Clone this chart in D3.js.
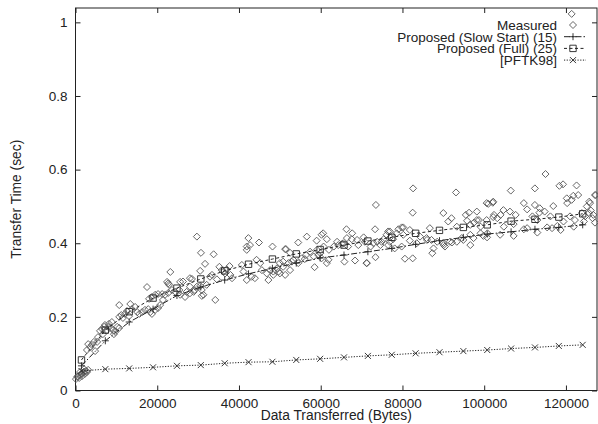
<!DOCTYPE html>
<html>
<head>
<meta charset="utf-8">
<script src="https://d3js.org/d3.v7.min.js"></script>
<style>
  body { margin: 0; background: #fff; }
  svg { display: block; font-family: "Liberation Sans", Arial, Helvetica, sans-serif; }
</style>
</head>
<body>
<svg id="chart" width="598" height="424"></svg>
<script>
// tick values
const xTicks = [0, 20000, 40000, 60000, 80000, 100000, 120000];
const yTicks = [0, 0.2, 0.4, 0.6, 0.8, 1];

// model curves, sampled every 4 segments
const modelBytes = [1460, 7300, 13140, 18980, 24820, 30660, 36500, 42340, 48180, 54020, 59860,
  65700, 71540, 77380, 83220, 89060, 94900, 100740, 106580, 112420, 118260, 124100];
const slowStart = [0.067, 0.135, 0.186, 0.221, 0.258, 0.281, 0.300, 0.317, 0.332, 0.346, 0.360,
  0.368, 0.377, 0.386, 0.397, 0.407, 0.416, 0.425, 0.431, 0.438, 0.443, 0.450];
const full = [0.083, 0.164, 0.214, 0.251, 0.278, 0.303, 0.325, 0.343, 0.357, 0.371, 0.383,
  0.395, 0.406, 0.416, 0.427, 0.435, 0.443, 0.450, 0.460, 0.465, 0.471, 0.480];
const pftk = [0.053, 0.058, 0.060, 0.063, 0.067, 0.069, 0.074, 0.077, 0.078, 0.083, 0.086,
  0.090, 0.094, 0.097, 0.101, 0.104, 0.107, 0.110, 0.114, 0.117, 0.121, 0.124];

// measured transfers [bytes, seconds]
const measured = [
  [100,0.031],[400,0.037],[600,0.039],[900,0.034],[1100,0.042],[1400,0.045],[1600,0.039],[1800,0.048],
  [2100,0.050],[2300,0.045],[2600,0.053],[2800,0.050],[3100,0.056],[1100,0.050],[2100,0.058],
  [2800,0.110],[3100,0.126],[3600,0.118],[4000,0.124],[4500,0.132],[4800,0.107],[5300,0.132],[5500,0.145],
  [6000,0.162],[6500,0.167],[6700,0.153],[7000,0.173],[7200,0.178],[7700,0.164],[8000,0.173],[8200,0.181],
  [8700,0.170],[9200,0.164],[9400,0.153],[9700,0.159],[10200,0.173],[10700,0.170],[8900,0.186],[10700,0.200],
  [11200,0.205],[11600,0.197],[12100,0.208],[12600,0.216],[13100,0.202],[13400,0.235],[13800,0.221],
  [14600,0.227],[15100,0.213],[15600,0.208],[16300,0.213],[17000,0.219],[17800,0.221],[18300,0.213],
  [18700,0.208],[19500,0.219],[10700,0.232],[17500,0.281],[18000,0.249],[18700,0.254],[19500,0.260],
  [20200,0.262],[21200,0.262],[21900,0.260],[22700,0.265],[23200,0.322],[22400,0.295],[22900,0.287],
  [23600,0.273],[24400,0.268],[25400,0.273],[25600,0.295],[20700,0.232],[21400,0.246],[20200,0.224],
  [29700,0.418],[30700,0.374],[33800,0.370],[31700,0.344],[30500,0.325],[28500,0.303],[26300,0.296],
  [27200,0.268],[28900,0.268],[30900,0.273],[32100,0.287],[32900,0.309],[33400,0.314],[34600,0.302],
  [35200,0.336],[35800,0.327],[36200,0.323],[36600,0.318],[37000,0.329],[37700,0.338],[37900,0.314],
  [38300,0.305],[30900,0.257],[31300,0.260],[29700,0.282],[28000,0.282],[34200,0.246],[40700,0.341],
  [41100,0.323],[41900,0.300],[42300,0.414],[41900,0.391],[42700,0.395],[44900,0.402],[44300,0.355],
  [45200,0.346],[45600,0.327],[46800,0.318],[47600,0.327],[48200,0.391],[50000,0.346],[50800,0.350],
  [51500,0.384],[48400,0.323],[49300,0.332],[50000,0.318],[47200,0.300],[43900,0.305],[43100,0.309],
  [25600,0.260],[26800,0.254],[28000,0.264],[29200,0.273],[30500,0.284],[28000,0.305],[22700,0.291],
  [41900,0.382],
  [51300,0.384],[54500,0.402],[56600,0.418],[60200,0.423],[61500,0.411],[66300,0.438],[73500,0.504],
  [82600,0.549],[82500,0.483],[73300,0.438],[76500,0.432],[79000,0.438],[79800,0.443],[80600,0.358],
  [82500,0.359],[87300,0.373],[87600,0.386],[90000,0.482],[91200,0.459],[92000,0.468],[93100,0.538],
  [95500,0.477],[96300,0.483],[98200,0.486],[101000,0.507],[102100,0.510],[106500,0.543],[112400,0.549],
  [115000,0.588],[118400,0.556],[119300,0.560],[122600,0.557],[123000,0.531],[121400,0.518],[120300,0.509],
  [109700,0.509],[110500,0.492],[112400,0.504],[113500,0.483],[114800,0.486],[116900,0.501],[125900,0.509],
  [127100,0.531],[104700,0.490],[106300,0.486],[107700,0.477],[104000,0.477],[102400,0.477],[103200,0.468],
  [100600,0.463],[98700,0.463],[97500,0.456],[95800,0.461],[93300,0.445],[99100,0.445],[100800,0.427],
  [104800,0.445],[107200,0.452],[109700,0.438],[113000,0.429],[115400,0.443],[117900,0.447],[124400,0.459],
  [125600,0.482],[126500,0.468],[127100,0.456],
  [96600,0.423],[97400,0.414],[100700,0.416],[103900,0.423],[107200,0.420],[110500,0.441],[94900,0.409],
  [92100,0.402],[90100,0.395],[88500,0.404],[86000,0.409],[84300,0.418],[83500,0.400],[81800,0.407],
  [80200,0.423],[78600,0.427],[77000,0.416],[75400,0.411],[74600,0.395],[73800,0.404],[72200,0.391],
  [70500,0.416],[68900,0.409],[67700,0.427],[66400,0.414],[65200,0.398],[64000,0.404],[63200,0.391],
  [62000,0.382],[60700,0.391],[59900,0.373],[59100,0.382],[58300,0.364],[57400,0.377],[56400,0.368],
  [55300,0.359],[54500,0.346],[53300,0.355],[52100,0.346],[50800,0.336],[49700,0.323],[48400,0.314],
  [71300,0.346],[96600,0.395],[90400,0.391],[99800,0.420],
  [125100,0.500],[126100,0.489],[123900,0.482],[124700,0.473],[126700,0.477],[121000,0.473],[122200,0.463],
  [119400,0.459],[116600,0.441],[118700,0.436],[121900,0.445],[113000,0.463],[111800,0.473],[116200,0.473],
  [102200,0.513],[102200,0.471],[113600,0.495],[120200,0.522],[121800,0.529],[125700,0.513],[127300,0.531],
  [100600,0.509],[80200,0.443],[81800,0.436],[86700,0.441],[98200,0.463],[96600,0.450],[99100,0.427],
  [76900,0.404],[78100,0.386],[79800,0.391],[85900,0.414],[87100,0.409],[90000,0.400],[91600,0.404],
  [93300,0.404],[94500,0.414],
  [60600,0.427],[59000,0.407],[76100,0.423],[76900,0.432],[52500,0.374],[52900,0.350],[52500,0.327],
  [51300,0.314],[56100,0.357],[58500,0.335],[61500,0.346],[65800,0.350],[68400,0.353],[71200,0.346],
  [73400,0.362],[64300,0.395],[65500,0.400],[66700,0.391],[67600,0.411],[69200,0.395],[70800,0.404],
  [72900,0.400],[74900,0.404],[76500,0.395],[77700,0.411],[59400,0.368],[60200,0.359],[61900,0.355],
  [121400,1.023]
];

const legendLabels = ["Measured", "Proposed (Slow Start) (15)", "Proposed (Full) (25)", "[PFTK98]"];

const svg = d3.select("#chart");
const margin = { top: 8, right: 1, bottom: 33.5, left: 75.5 };
const width = +svg.attr("width") - margin.left - margin.right;
const height = +svg.attr("height") - margin.top - margin.bottom;
const ink = "#222";

const g = svg.append("g").attr("transform", `translate(${margin.left}, ${margin.top})`);

const x = d3.scaleLinear().domain([0, 127600]).range([0, width]);
const y = d3.scaleLinear().domain([0, 1.039]).range([height, 0]);

// marker shapes
const shapes = {
  diamond: r => `M0,${-r}L${r},0L0,${r}L${-r},0Z`,
  square: r => `M${-r},${-r}H${r}V${r}H${-r}Z`,
  plus: r => `M${-r},0H${r}M0,${-r}V${r}`,
  cross: r => `M${-r},${-r}L${r},${r}M${-r},${r}L${r},${-r}`
};

function customAxis(s, axis, labels) {
  s.call(axis);
  s.select(".domain").remove();
  s.selectAll(".tick line").attr("stroke", ink);
  s.selectAll(".tick text")
    .attr("fill", ink)
    .style("font-size", "13.5px")
    .style("font-family", "'Liberation Sans', Arial, sans-serif")
    .attr("display", labels ? null : "none");
}

g.append("g").attr("transform", `translate(0, ${height})`)
  .call(customAxis, d3.axisBottom(x).tickValues(xTicks).tickSize(-5).tickPadding(8).tickFormat(d3.format("d")), true);
g.append("g")
  .call(customAxis, d3.axisTop(x).tickValues(xTicks).tickSize(-5), false);
g.append("g")
  .call(customAxis, d3.axisLeft(y).tickValues(yTicks).tickSize(-5).tickPadding(8).tickFormat(d => String(d)), true);
g.append("g").attr("transform", `translate(${width}, 0)`)
  .call(customAxis, d3.axisRight(y).tickValues(yTicks).tickSize(-5), false);

g.append("rect")
  .attr("width", width).attr("height", height)
  .attr("fill", "none").attr("stroke", ink).attr("stroke-width", 1);

// axis titles
svg.append("text")
  .attr("x", margin.left + width / 2).attr("y", 419.5)
  .attr("text-anchor", "middle").attr("fill", ink)
  .style("font-size", "13.8px")
  .text("Data Transferred (Bytes)");
svg.append("text")
  .attr("transform", `translate(21, ${margin.top + height / 2}) rotate(-90)`)
  .attr("text-anchor", "middle").attr("fill", ink)
  .style("font-size", "13.8px")
  .text("Transfer Time (sec)");

const plot = g.append("g");

// measured points
plot.selectAll(".measured")
  .data(measured)
  .enter()
  .append("path")
  .attr("class", "measured")
  .attr("transform", d => `translate(${x(d[0])}, ${y(d[1])})`)
  .attr("d", shapes.diamond(3.5))
  .attr("fill", "none")
  .attr("stroke", "#555")
  .attr("stroke-width", 0.9);

const series = [
  { values: slowStart, shape: "plus", size: 3.5, dash: "6,2,1.5,2" },
  { values: full, shape: "square", size: 3.2, dash: "3,2.5" },
  { values: pftk, shape: "cross", size: 3, dash: "1.2,1.5" }
];

const valueline = d3.line().x(d => x(d[0])).y(d => y(d[1]));

series.forEach(s => {
  const pts = modelBytes.map((b, i) => [b, s.values[i]]);
  plot.append("path")
    .datum(pts)
    .attr("d", valueline)
    .attr("fill", "none")
    .attr("stroke", ink)
    .attr("stroke-width", 1)
    .attr("stroke-dasharray", s.dash);
  plot.selectAll(null)
    .data(pts)
    .enter()
    .append("path")
    .attr("transform", d => `translate(${x(d[0])}, ${y(d[1])})`)
    .attr("d", shapes[s.shape](s.size))
    .attr("fill", "none")
    .attr("stroke", ink)
    .attr("stroke-width", 0.9);
});

// legend
const legendKeys = [
  { shape: "diamond", size: 3.5, dash: null },
  { shape: "plus", size: 3.5, dash: "6,2,1.5,2" },
  { shape: "square", size: 3.2, dash: "3,2.5" },
  { shape: "cross", size: 3, dash: "1.2,1.5" }
];
const legend = svg.append("g");
legendLabels.forEach((label, i) => {
  const ly = 25 + i * 11.7;
  legend.append("text")
    .attr("x", 557).attr("y", ly + 4.8)
    .attr("text-anchor", "end").attr("fill", ink)
    .style("font-size", "13.5px")
    .text(label);
  const k = legendKeys[i];
  if (k.dash) {
    legend.append("line")
      .attr("x1", 564).attr("x2", 586).attr("y1", ly).attr("y2", ly)
      .attr("stroke", ink).attr("stroke-dasharray", k.dash);
  }
  legend.append("path")
    .attr("transform", `translate(573, ${ly})`)
    .attr("d", shapes[k.shape](k.size))
    .attr("fill", "none")
    .attr("stroke", k.dash ? ink : "#555")
    .attr("stroke-width", 0.9);
});
</script>
</body>
</html>
